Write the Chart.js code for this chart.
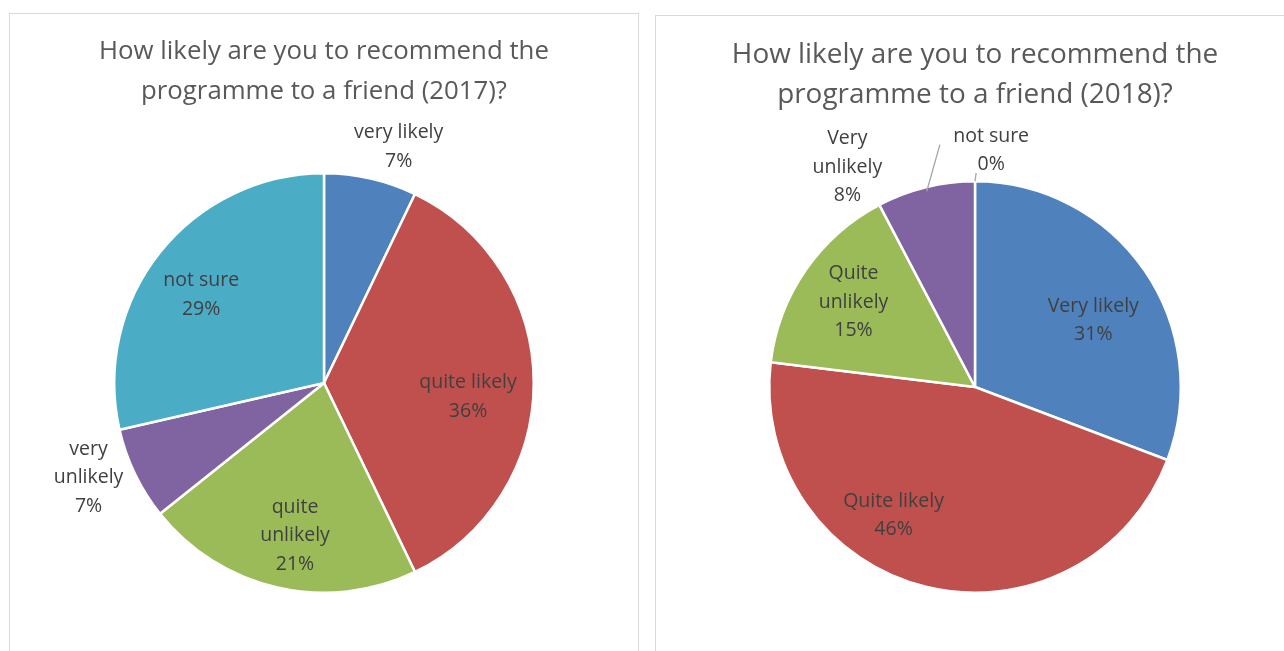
<!DOCTYPE html>
<html lang="en">
<head>
    <meta charset="UTF-8">
    <title>Recommend the programme</title>
    <script src="https://cdn.jsdelivr.net/npm/chart.js"></script>
    <style>
        body { margin: 0; background: #fff; width: 1284px; height: 651px; overflow: hidden; position: relative; }
        .box { position: absolute; border: 1px solid #d9d9d9; background: #fff; }
        #box2017 { left: 9px; top: 13px; width: 628px; height: 700px; }
        #box2018 { left: 655px; top: 15px; width: 700px; height: 700px; }
        canvas { position: absolute; left: 0; top: 0; }
    </style>
</head>
<body>
    <div class="box" id="box2017"><canvas id="chart2017" width="628" height="637"></canvas></div>
    <div class="box" id="box2018"><canvas id="chart2018" width="638" height="635"></canvas></div>
    <script>
        // 2017 survey
        const labels2017 = ['very likely', 'quite likely', 'quite unlikely', 'very unlikely', 'not sure'];
        const counts2017 = [1, 5, 3, 1, 4];
        const pct2017 = ['7%', '36%', '21%', '7%', '29%'];

        // 2018 survey
        const labels2018 = ['Very likely', 'Quite likely', 'Quite unlikely', 'Very unlikely', 'not sure'];
        const counts2018 = [4, 6, 2, 1, 0];
        const pct2018 = ['31%', '46%', '15%', '8%', '0%'];

        const colors = ['#4f81bd', '#c0504d', '#9bbb59', '#8064a2', '#4bacc6'];
        const titleColor = '#595959';
        const labelColor = '#404040';
        const fontFamily = '"Open Sans", Lato, sans-serif';

        // label placement relative to each slice: radius factor and angle shift (deg)
        const place2017 = [
            { r: 1.18, da: 4.7, lines: ['very likely'] },
            { r: 0.69, da: 5.5, lines: ['quite likely'] },
            { r: 0.74, da: -2.1, lines: ['quite', 'unlikely'] },
            { r: 1.21, da: 3.8, lines: ['very', 'unlikely'] },
            { r: 0.72, da: -3, lines: ['not sure'] }
        ];
        const place2018 = [
            { r: 0.66, da: 5.2, lines: ['Very likely'] },
            { r: 0.74, da: 18.5, lines: ['Quite likely'] },
            { r: 0.72, da: 0.3, lines: ['Quite', 'unlikely'] },
            { r: 1.235, da: -16.3, lines: ['Very', 'unlikely'], leader: { r0: 0.98, r1: 1.19, da1: 5.6 } },
            { r: 1.153, da: 3.9, lines: ['not sure'], leader: { r0: 1.0, r1: 1.04, da1: 0.3 } }
        ];

        const sliceLabels = {
            id: 'sliceLabels',
            afterDatasetsDraw(chart, args, opts) {
                const ctx = chart.ctx;
                const arcs = chart.getDatasetMeta(0).data;
                ctx.save();
                ctx.font = opts.size + 'px ' + fontFamily;
                ctx.textAlign = 'center';
                ctx.textBaseline = 'middle';
                arcs.forEach((arc, i) => {
                    const p = opts.place[i];
                    const mid = (arc.startAngle + arc.endAngle) / 2;
                    const R = arc.outerRadius;
                    if (p.leader) {
                        const a1 = mid + p.leader.da1 * Math.PI / 180;
                        ctx.strokeStyle = '#a6a6a6';
                        ctx.lineWidth = 1.3;
                        ctx.beginPath();
                        ctx.moveTo(arc.x + Math.cos(mid) * R * p.leader.r0, arc.y + Math.sin(mid) * R * p.leader.r0);
                        ctx.lineTo(arc.x + Math.cos(a1) * R * p.leader.r1, arc.y + Math.sin(a1) * R * p.leader.r1);
                        ctx.stroke();
                    }
                    const a = mid + p.da * Math.PI / 180;
                    const cx = arc.x + Math.cos(a) * R * p.r;
                    const cy = arc.y + Math.sin(a) * R * p.r;
                    const lines = p.lines.concat([opts.pct[i]]);
                    const lh = opts.lineHeight;
                    const top = cy - (lines.length - 1) * lh / 2;
                    ctx.fillStyle = labelColor;
                    lines.forEach((t, k) => ctx.fillText(t, cx, top + k * lh));
                });
                ctx.restore();
            }
        };

        function makePie(id, labels, counts, pct, place, title, titleSize, titlePad, layoutPad) {
            new Chart(document.getElementById(id), {
                type: 'pie',
                data: {
                    labels: labels,
                    datasets: [{
                        data: counts,
                        backgroundColor: colors.slice(0, counts.length),
                        borderColor: '#ffffff',
                        borderWidth: 2.5
                    }]
                },
                options: {
                    responsive: false,
                    animation: false,
                    layout: { padding: layoutPad },
                    plugins: {
                        legend: { display: false },
                        tooltip: { enabled: false },
                        title: {
                            display: true,
                            text: title,
                            color: titleColor,
                            font: { family: fontFamily, size: titleSize, weight: 'normal', lineHeight: 40 / titleSize },
                            padding: titlePad
                        },
                        sliceLabels: { place: place, pct: pct, size: 19.5, lineHeight: 28.5 }
                    }
                },
                plugins: [sliceLabels]
            });
        }

        makePie('chart2017', labels2017, counts2017, pct2017, place2017,
            ['How likely are you to recommend the', 'programme to a friend (2017)?'],
            25.8, { top: 18, bottom: 60 }, { bottom: 57 });
        makePie('chart2018', labels2018, counts2018, pct2018, place2018,
            ['How likely are you to recommend the', 'programme to a friend (2018)?'],
            27.9, { top: 19, bottom: 65 }, { bottom: 57 });
    </script>
</body>
</html>
